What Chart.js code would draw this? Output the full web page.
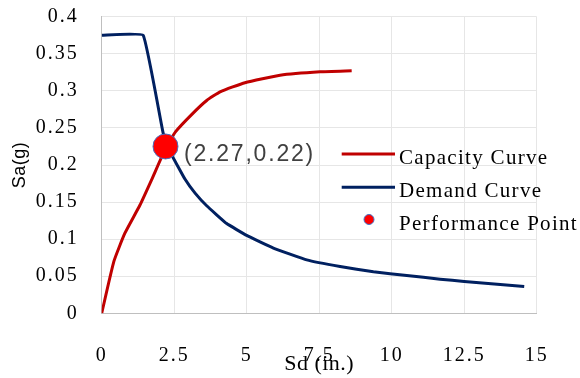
<!DOCTYPE html>
<html>
<head>
<meta charset="utf-8">
<script src="https://cdn.jsdelivr.net/npm/chart.js@4.4.0/dist/chart.umd.min.js"></script>
<style>
  html, body { margin: 0; padding: 0; background: #fff; }
  canvas { display: block; }
</style>
</head>
<body>
<canvas id="pushoverChart" width="580" height="378"></canvas>
<script>
// capacity curve (Sd in inches, Sa in g)
const capacitySd = [0, 0.42, 0.8, 1.32, 1.72, 2.2, 2.55, 3.1, 3.62, 4.1, 4.94, 6.15, 7.53, 8.62];
const capacitySa = [0, 0.07, 0.108, 0.146, 0.18, 0.222, 0.245, 0.268, 0.287, 0.299, 0.311, 0.321, 0.3256, 0.327];

// demand curve
const demandSd = [0, 1.43, 2.12, 2.45, 2.87, 3.22, 3.62, 4.31, 5.0, 5.92, 7.07, 8.22, 9.37, 10.52, 11.67, 12.5, 14.57];
const demandSa = [0.375, 0.375, 0.243, 0.211, 0.181, 0.162, 0.145, 0.121, 0.105, 0.088, 0.072, 0.063, 0.056, 0.051, 0.046, 0.043, 0.036];

// performance point
const perfSd = [2.2];
const perfSa = [0.225];
const perfLabel = '(2.27,0.22)';

const seriesNames = ['Capacity Curve', 'Demand Curve', 'Performance Point'];
const xTickLabels = ['0', '2.5', '5', '7.5', '10', '12.5', '15'];
const yTickLabels = ['0', '0.05', '0.1', '0.15', '0.2', '0.25', '0.3', '0.35', '0.4'];

const capacityColor = '#c00000';
const demandColor = '#002060';
const pointColor = '#ff0000';
const pointEdge = '#4472c4';

function toXY(xs, ys) {
    return xs.map(function (x, i) { return { x: x, y: ys[i] }; });
}

// titles drawn with tight spacing, tick labels (z:1, after datasets) wider
const textSpacing = {
    id: 'textSpacing',
    beforeDraw(chart) { chart.ctx.letterSpacing = '0.5px'; },
    beforeDatasetsDraw(chart) { chart.ctx.letterSpacing = '2px'; }
};

// legend inside the plot + the point label
const legendAndLabel = {
    id: 'legendAndLabel',
    afterDraw(chart) {
        const ctx = chart.ctx;
        const xs = chart.scales.x, ys = chart.scales.y;
        ctx.save();

        const px = xs.getPixelForValue(perfSd[0]);
        const py = ys.getPixelForValue(perfSa[0]);
        ctx.letterSpacing = '1.8px';
        ctx.font = '23px "Liberation Sans", Arial, sans-serif';
        ctx.fillStyle = '#404040';
        ctx.textBaseline = 'alphabetic';
        ctx.textAlign = 'left';
        ctx.fillText(perfLabel, px + 18.5, py + 15);

        ctx.letterSpacing = '1.3px';
        ctx.font = '21px "Liberation Serif", "Times New Roman", serif';
        ctx.fillStyle = '#000';
        const rows = [154, 187.3, 219.5];
        const colors = [capacityColor, demandColor];
        for (let i = 0; i < 3; i++) {
            const y = rows[i];
            if (i < 2) {
                ctx.strokeStyle = colors[i];
                ctx.lineWidth = 3;
                ctx.beginPath();
                ctx.moveTo(341.7, y);
                ctx.lineTo(395, y);
                ctx.stroke();
            } else {
                ctx.beginPath();
                ctx.arc(369, y, 5, 0, Math.PI * 2);
                ctx.fillStyle = pointColor;
                ctx.fill();
                ctx.strokeStyle = pointEdge;
                ctx.lineWidth = 1;
                ctx.stroke();
                ctx.fillStyle = '#000';
            }
            ctx.fillText(seriesNames[i], 399, y + 10);
        }
        ctx.restore();
    }
};

const serif = { family: '"Liberation Serif", "Times New Roman", serif', size: 20 };

function noEdgePadding(s) {
    s.paddingTop = 0;
    s.paddingBottom = 0;
    s.paddingLeft = 0;
    s.paddingRight = 0;
}

new Chart(document.getElementById('pushoverChart'), {
    type: 'scatter',
    data: {
        datasets: [{
            label: seriesNames[0],
            data: toXY(capacitySd, capacitySa),
            showLine: true,
            borderColor: capacityColor,
            borderWidth: 3,
            pointRadius: 0,
            tension: 0.15,
            order: 2
        }, {
            label: seriesNames[1],
            data: toXY(demandSd, demandSa),
            showLine: true,
            borderColor: demandColor,
            borderWidth: 3,
            pointRadius: 0,
            tension: 0.08,
            order: 1
        }, {
            label: seriesNames[2],
            data: toXY(perfSd, perfSa),
            backgroundColor: pointColor,
            borderColor: pointEdge,
            borderWidth: 1,
            pointRadius: 12.5,
            order: 0
        }]
    },
    options: {
        responsive: false,
        animation: false,
        layout: { padding: { top: 16.7, right: 43.3, bottom: 0, left: 0 } },
        plugins: {
            legend: { display: false },
            tooltip: { enabled: false }
        },
        scales: {
            x: {
                type: 'linear',
                min: 0,
                max: 15,
                ticks: {
                    stepSize: 2.5,
                    padding: 30,
                    z: 1,
                    color: '#000',
                    font: serif,
                    maxRotation: 0,
                    autoSkip: false,
                    callback: function (v, i) { return xTickLabels[i]; }
                },
                grid: { color: '#e6e6e6', drawTicks: false },
                border: { color: '#bfbfbf' },
                title: {
                    display: true,
                    text: 'Sd (in.)',
                    color: '#000',
                    font: { family: serif.family, size: 22 },
                    padding: { top: 0, bottom: 1 }
                },
                afterFit: function (s) { s.height = 64.7; noEdgePadding(s); }
            },
            y: {
                min: 0,
                max: 0.4,
                ticks: {
                    stepSize: 0.05,
                    padding: 23,
                    z: 1,
                    color: '#000',
                    font: serif,
                    callback: function (v, i) { return yTickLabels[i]; }
                },
                grid: { color: '#e6e6e6', drawTicks: false },
                border: { color: '#bfbfbf' },
                title: {
                    display: true,
                    text: 'Sa(g)',
                    color: '#000',
                    font: { family: '"Liberation Sans", Arial, sans-serif', size: 18 },
                    padding: { top: 9, bottom: 0 }
                },
                afterFit: function (s) { s.width = 101.7; noEdgePadding(s); }
            }
        }
    },
    plugins: [textSpacing, legendAndLabel]
});
</script>
</body>
</html>
